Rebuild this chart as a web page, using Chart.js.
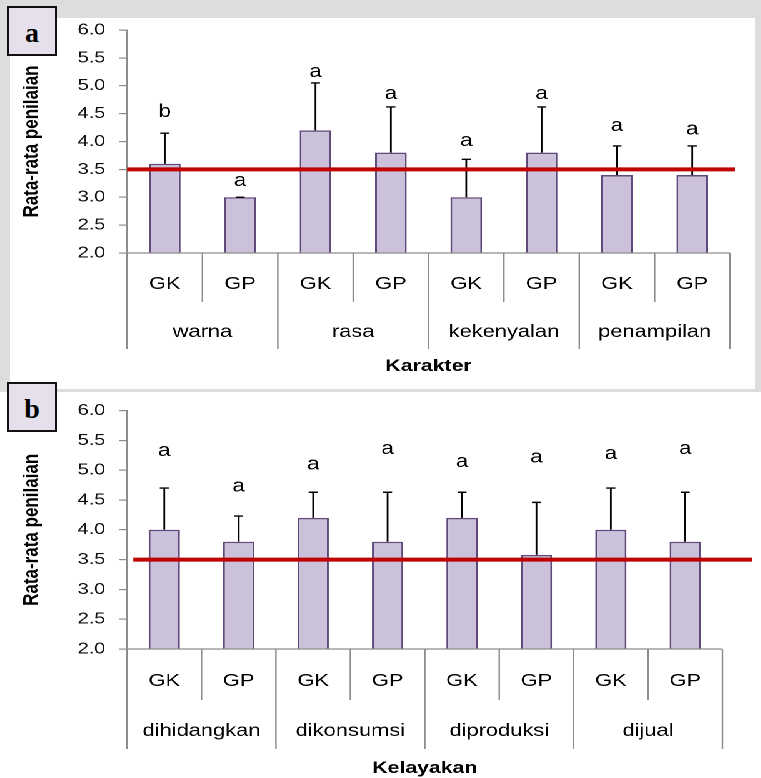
<!DOCTYPE html>
<html>
<head>
<meta charset="utf-8">
<script src="https://cdn.jsdelivr.net/npm/chart.js@4.4.0/dist/chart.umd.min.js"></script>
<style>
    html, body { margin: 0; padding: 0; }
    body { width: 761px; height: 778px; position: relative; overflow: hidden; background: #fff; }
    .bg-top { position: absolute; left: 0; top: 0; width: 761px; height: 392px; background: #dddddd; }
    .panel-top { position: absolute; left: 10px; top: 18px; width: 745px; height: 371px; background: #fff; }
    /* the source picture is stretched sideways, so the charts are drawn narrow and widened */
    .stretch { position: absolute; left: 0; top: 0; width: 609px; height: 778px; transform: scaleX(1.25); transform-origin: 0 0; }
    .stretch canvas { position: absolute; left: 0; }
    #karakterChart { top: 0; }
    #kelayakanChart { top: 390px; }
    .tag { position: absolute; left: 7px; width: 46px; height: 46px; border: 2px solid #111; background: #e5e0ec;
           font: bold 28px 'Liberation Serif', 'Times New Roman', serif; text-align: center; line-height: 50px; }
</style>
</head>
<body>
<div class="bg-top"></div>
<div class="panel-top"></div>
<div class="stretch">
    <canvas id="karakterChart" width="609" height="390"></canvas>
    <canvas id="kelayakanChart" width="609" height="388"></canvas>
</div>
<div class="tag" style="top:6px">a</div>
<div class="tag" style="top:382px">b</div>

<script>
const gumTypes = ['GK', 'GP'];
const yTicks = [2.0, 2.5, 3.0, 3.5, 4.0, 4.5, 5.0, 5.5, 6.0];
const batasNilai = 3.5;

const karakterGroups = ['warna', 'rasa', 'kekenyalan', 'penampilan'];
const karakterMeans = [3.6, 3.0, 4.2, 3.8, 3.0, 3.8, 3.4, 3.4];
const karakterSD = [0.55, 0.0, 0.85, 0.82, 0.68, 0.82, 0.52, 0.52];
const karakterNotasi = ['b', 'a', 'a', 'a', 'a', 'a', 'a', 'a'];
const karakterNotasiY = [4.44, 3.2, 5.16, 4.76, 3.92, 4.76, 4.19, 4.13];

const kelayakanGroups = ['dihidangkan', 'dikonsumsi', 'diproduksi', 'dijual'];
const kelayakanMeans = [4.0, 3.8, 4.2, 3.8, 4.2, 3.58, 4.0, 3.8];
const kelayakanSD = [0.7, 0.43, 0.43, 0.83, 0.43, 0.88, 0.7, 0.83];
const kelayakanNotasi = ['a', 'a', 'a', 'a', 'a', 'a', 'a', 'a'];
const kelayakanNotasiY = [5.24, 4.64, 5.01, 5.27, 5.05, 5.13, 5.19, 5.27];

const FONT = "'Liberation Sans', Arial, sans-serif";
const AXIS_GREY = '#8c8c8c';

// category axis with two rows of labels, error bars, letters and the 3.5 line
function makeDecor(cfg) {
    return {
        id: 'decor',
        afterDatasetsDraw(chart) {
            const {ctx, chartArea: area, scales: {x, y}} = chart;
            const labels = chart.data.labels;
            const values = chart.data.datasets[0].data;
            const L = cfg.layout;
            ctx.save();

            ctx.strokeStyle = AXIS_GREY;
            ctx.lineWidth = 1.2;
            ctx.beginPath();
            ctx.moveTo(area.left, area.bottom);
            ctx.lineTo(area.right, area.bottom);
            for (let i = 0; i <= labels.length; i++) {
                const px = x.getPixelForValue(i - 0.5);
                const len = i % 2 === 0 ? L.groupLine : L.typeLine;
                ctx.moveTo(px, area.bottom);
                ctx.lineTo(px, area.bottom + len);
            }
            ctx.stroke();

            ctx.fillStyle = '#000';
            ctx.textAlign = 'center';
            ctx.textBaseline = 'alphabetic';
            ctx.font = '17.5px ' + FONT;
            labels.forEach((lab, i) => ctx.fillText(lab, x.getPixelForValue(i), area.bottom + L.typeLabel));
            cfg.groups.forEach((g, j) => {
                const cx = (x.getPixelForValue(2 * j) + x.getPixelForValue(2 * j + 1)) / 2;
                ctx.fillText(g, cx, area.bottom + L.groupLabel);
            });
            ctx.font = 'bold 17px ' + FONT;
            ctx.fillText(cfg.title, (area.left + area.right) / 2, area.bottom + L.title);

            ctx.strokeStyle = '#000';
            ctx.lineWidth = 1.4;
            values.forEach((v, i) => {
                const cx = x.getPixelForValue(i);
                const y0 = y.getPixelForValue(v);
                const y1 = y.getPixelForValue(v + cfg.sd[i]);
                ctx.beginPath();
                ctx.moveTo(cx, y0);
                ctx.lineTo(cx, y1);
                ctx.moveTo(cx - 3.6, y1);
                ctx.lineTo(cx + 3.6, y1);
                ctx.stroke();
            });

            ctx.font = '18px ' + FONT;
            cfg.notasi.forEach((t, i) => ctx.fillText(t, x.getPixelForValue(i), y.getPixelForValue(cfg.notasiY[i])));

            const ry = y.getPixelForValue(batasNilai);
            ctx.strokeStyle = '#c00000';
            ctx.lineWidth = 4;
            ctx.beginPath();
            ctx.moveTo(area.left + L.redStart, ry);
            ctx.lineTo(area.right + L.redEnd, ry);
            ctx.stroke();

            ctx.restore();
        }
    };
}

function makeChart(canvasId, cfg) {
    const labels = cfg.groups.flatMap(() => gumTypes);
    return new Chart(document.getElementById(canvasId), {
        type: 'bar',
        data: {
            labels,
            datasets: [{
                data: cfg.means,
                backgroundColor: '#ccc1da',
                borderColor: '#604a7b',
                borderWidth: 1.5,
                categoryPercentage: 1,
                barPercentage: 0.42
            }]
        },
        options: {
            responsive: false,
            devicePixelRatio: 2,
            animation: false,
            layout: {padding: cfg.padding},
            plugins: {legend: {display: false}, tooltip: {enabled: false}},
            scales: {
                x: {display: false, offset: true},
                y: {
                    min: 2,
                    max: 6,
                    afterBuildTicks: s => { s.ticks = yTicks.map(v => ({value: v})); },
                    afterFit: s => { s.width = 101.6; },
                    grid: {drawOnChartArea: false, drawTicks: true, tickLength: 6.4, color: AXIS_GREY, lineWidth: 1.2},
                    border: {color: AXIS_GREY, width: 1.2},
                    ticks: {
                        padding: 11,
                        color: '#111',
                        font: {family: FONT, size: 16},
                        callback: v => Number(v).toFixed(1)
                    },
                    title: {
                        display: true,
                        text: 'Rata-rata penilaian',
                        color: '#000',
                        font: {family: FONT, size: 17, weight: 'bold'},
                        padding: {top: 15, bottom: 0}
                    }
                }
            }
        },
        plugins: [makeDecor(cfg)]
    });
}

makeChart('karakterChart', {
    groups: karakterGroups,
    means: karakterMeans,
    sd: karakterSD,
    notasi: karakterNotasi,
    notasiY: karakterNotasiY,
    title: 'Karakter',
    padding: {left: 0, top: 30, right: 25, bottom: 137},
    layout: {typeLine: 49, groupLine: 96, typeLabel: 36, groupLabel: 84, title: 118, redStart: 0, redEnd: 4}
});

makeChart('kelayakanChart', {
    groups: kelayakanGroups,
    means: kelayakanMeans,
    sd: kelayakanSD,
    notasi: kelayakanNotasi,
    notasiY: kelayakanNotasiY,
    title: 'Kelayakan',
    padding: {left: 0, top: 15, right: 31, bottom: 129},
    layout: {typeLine: 51, groupLine: 100, typeLabel: 37, groupLabel: 87, title: 124, redStart: 5, redEnd: 24}
});
</script>
</body>
</html>
